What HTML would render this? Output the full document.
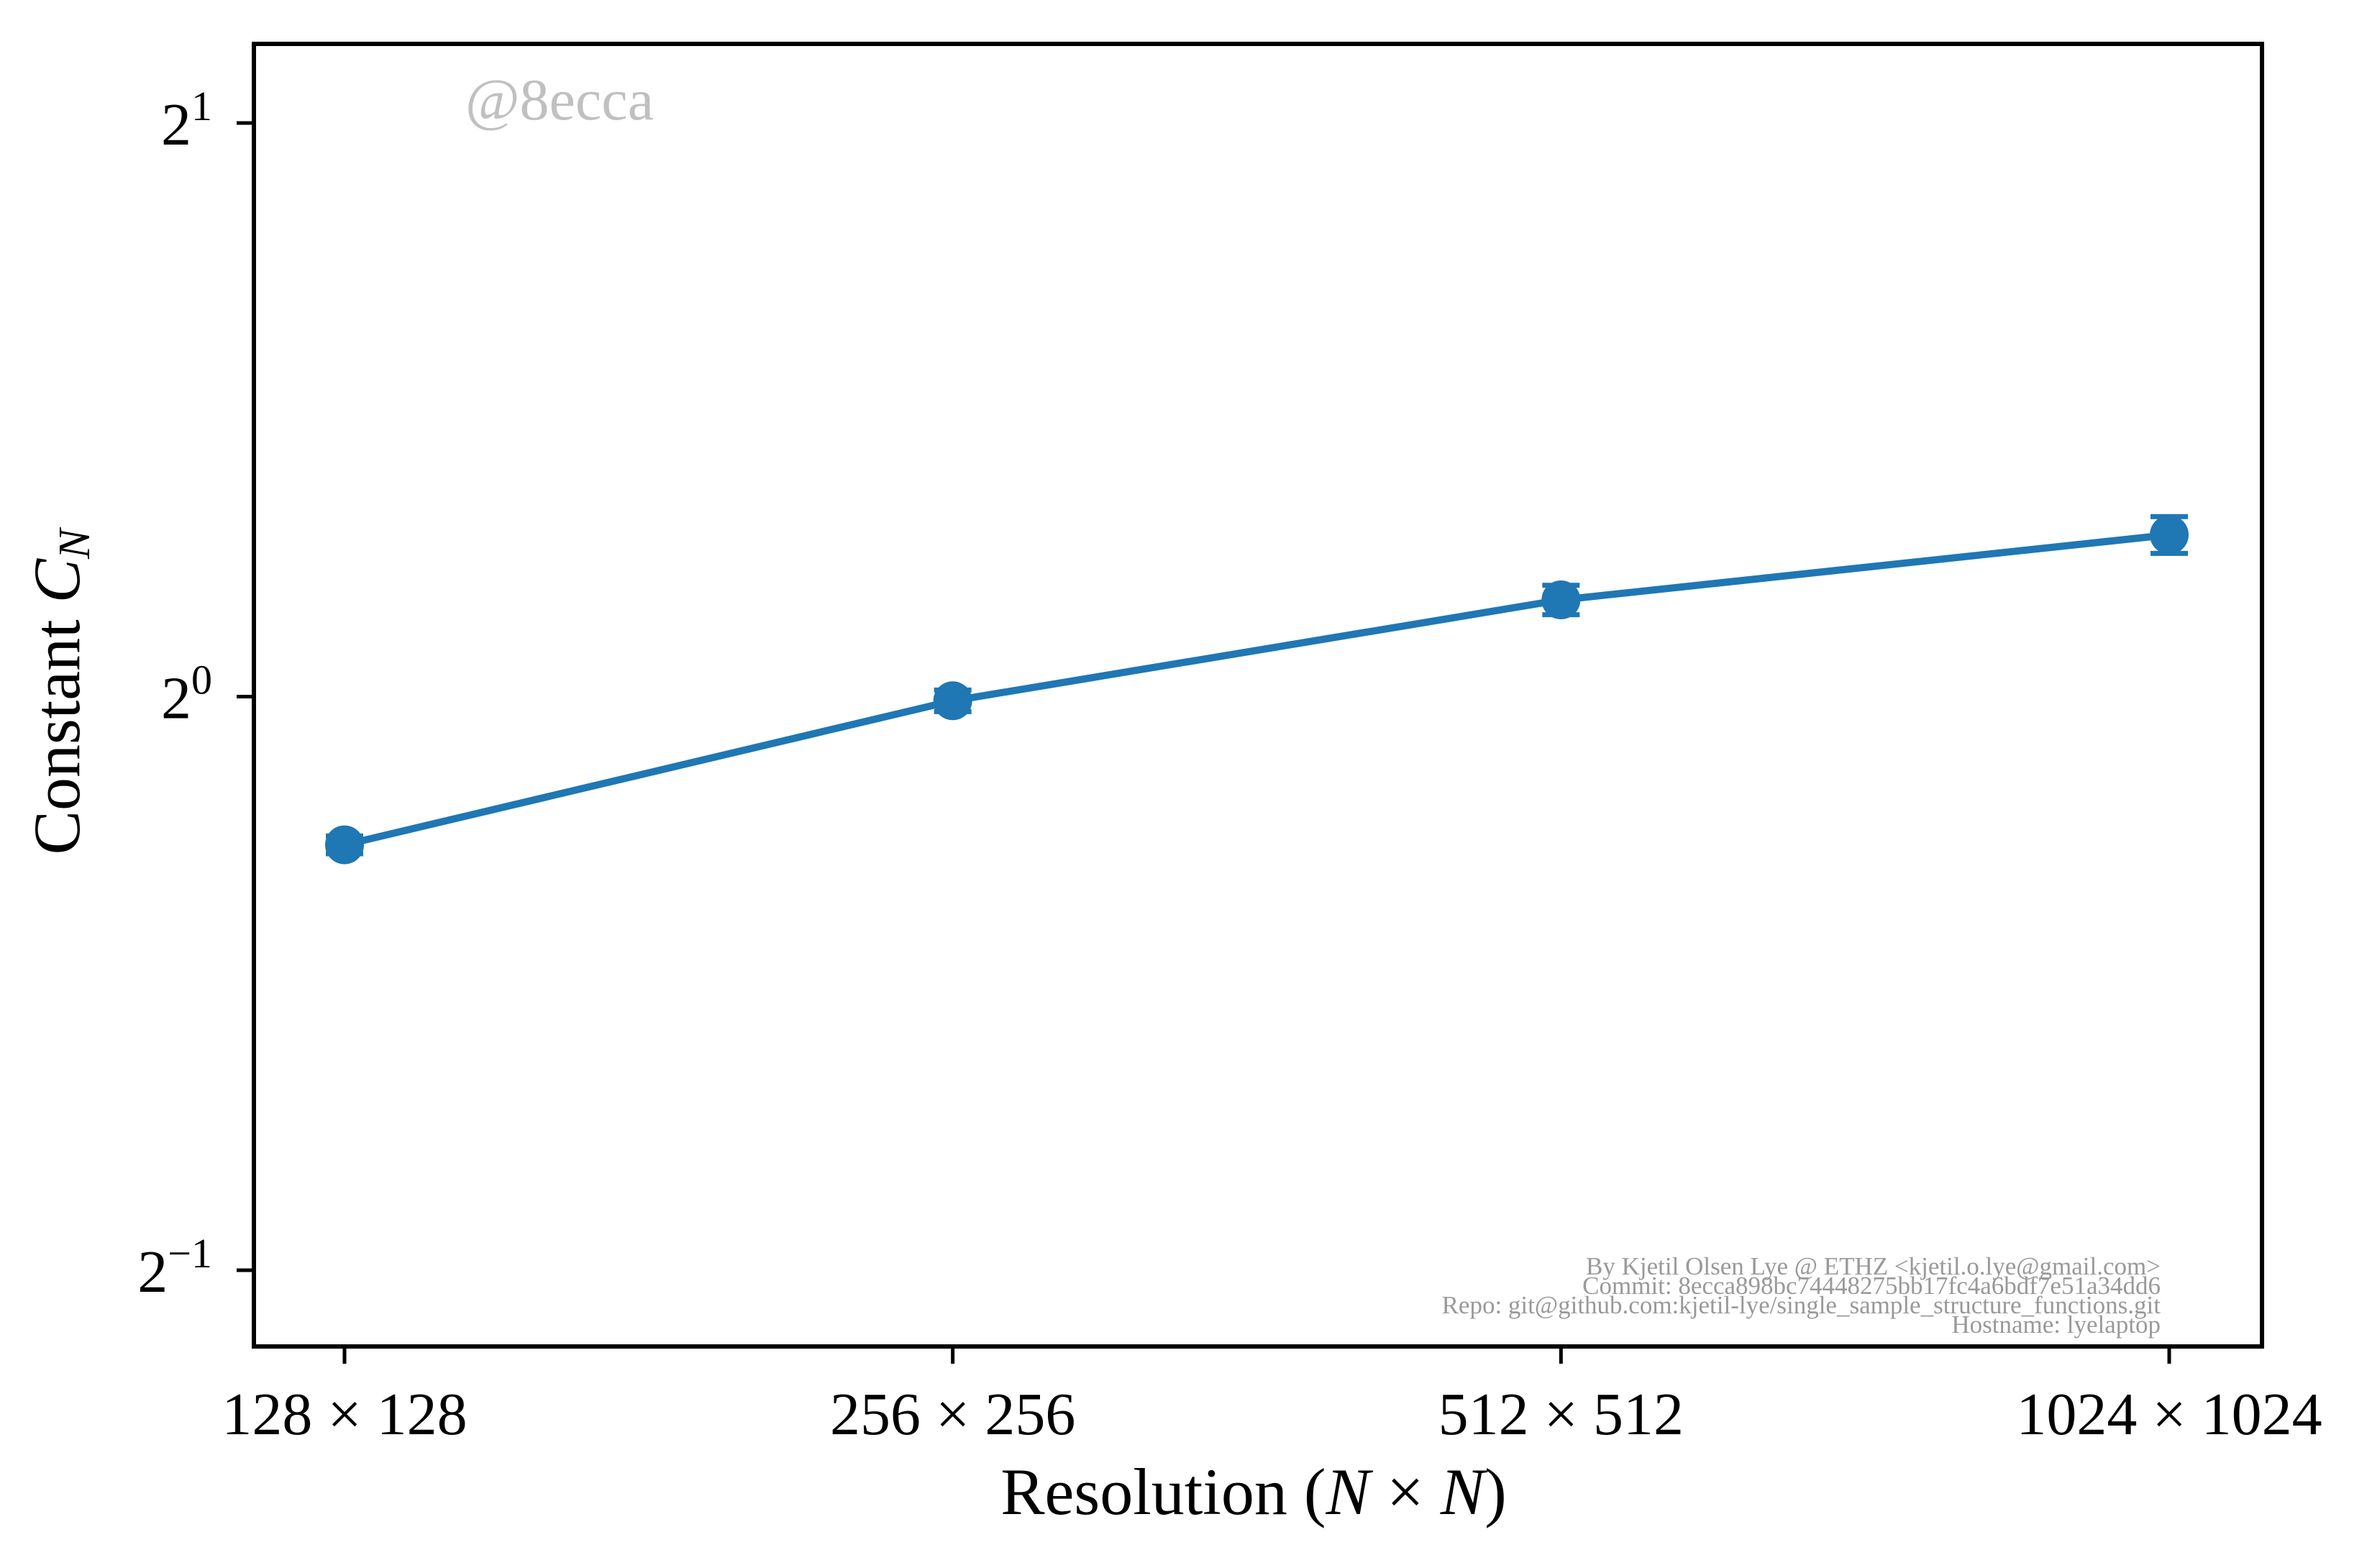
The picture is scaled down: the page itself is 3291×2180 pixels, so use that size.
<!DOCTYPE html>
<html><head><meta charset="utf-8"><style>
html,body{margin:0;padding:0;background:#fff}
svg{display:block}
text{font-family:"Liberation Serif",serif}
</style></head><body>
<svg id="chart" width="3291" height="2180" viewBox="0 0 3291 2180" xmlns="http://www.w3.org/2000/svg">
<rect width="3291" height="2180" fill="#fff"/>
<g id="marks"></g>
<rect x="353" y="61" width="2792" height="1811" fill="none" stroke="#000" stroke-width="6"/>
<text x="647" y="166" font-size="82" fill="#c0c0c0">@8ecca</text>
<g font-size="35" fill="#999" text-anchor="end">
<text x="3004" y="1772">By Kjetil Olsen Lye @ ETHZ &lt;kjetil.o.lye@gmail.com&gt;</text>
<text x="3004" y="1799">Commit: 8ecca898bc74448275bb17fc4a6bdf7e51a34dd6</text>
<text x="3004" y="1826">Repo: git@github.com:kjetil-lye/single_sample_structure_functions.git</text>
<text x="3004" y="1853">Hostname: lyelaptop</text>
</g>
<text x="1743" y="2105" font-size="92" text-anchor="middle">Resolution (<tspan font-style="italic">N</tspan> × <tspan font-style="italic">N</tspan>)</text>
<text transform="translate(110,962) rotate(-90)" font-size="92" text-anchor="middle">Constant <tspan font-style="italic">C</tspan><tspan font-style="italic" font-size="62" dy="14">N</tspan></text>
<g id="axes"></g>
</svg>
<script>
const categories = ["128 × 128", "256 × 256", "512 × 512", "1024 × 1024"];
const values = [0.836, 0.995, 1.124, 1.216];
const errors = [0.009, 0.013, 0.02, 0.027];
const yTickExponents = [1, 0, -1];

const NS = "http://www.w3.org/2000/svg";
const L = 353, R = 3145, T = 61, B = 1872;
const yMin = -1.133, yMax = 1.138;
function xScale(i){ return 479 + i * (3016 - 479) / (categories.length - 1); }
function yScale(v){ const l = Math.log2(v); return B - (l - yMin) / (yMax - yMin) * (B - T); }
function mk(tag, attrs, parent){ const e = document.createElementNS(NS, tag); for (const k in attrs) e.setAttribute(k, attrs[k]); parent.appendChild(e); return e; }

const axes = document.getElementById('axes');
categories.forEach((c, i) => {
  const x = xScale(i);
  const t = mk('line', {x1:x, x2:x, y1:B, y2:B+24, stroke:'#000','stroke-width':5}, axes);
  
  
  const lb = mk('text', {x:x, y:B+122, 'font-size':84, 'text-anchor':'middle'}, axes);
  lb.textContent = c;
  
  
});
yTickExponents.forEach(e => {
  const y = yScale(Math.pow(2, e));
  const t = mk('line', {x1:L-24, x2:L, y1:y, y2:y, stroke:'#000','stroke-width':5}, axes);
  
  
  const lb = mk('text', {x:L-58, y:y+30, 'font-size':84, 'text-anchor':'end'}, axes);
  
  
  const b = document.createElementNS(NS, 'tspan'); b.textContent = '2'; lb.appendChild(b);
  const s = document.createElementNS(NS, 'tspan'); s.setAttribute('dy', -34); s.setAttribute('font-size', 58);
  s.textContent = e < 0 ? '−' + (-e) : String(e); lb.appendChild(s);
});

const marks = document.getElementById('marks');
const color = '#1f77b4';
const pts = values.map((v, i) => xScale(i) + ',' + yScale(v)).join(' ');
const line = mk('polyline', {points:pts, fill:'none', stroke:color, 'stroke-width':10, 'stroke-linejoin':'round'}, marks);


values.forEach((v, i) => {
  const x = xScale(i), y1 = yScale(v + errors[i]), y2 = yScale(v - errors[i]);
  const g = mk('g', {}, marks);
  
  
  mk('line', {x1:x, x2:x, y1:y1, y2:y2, stroke:color, 'stroke-width':6}, g);
  mk('line', {x1:x-26, x2:x+26, y1:y1, y2:y1, stroke:color, 'stroke-width':7}, g);
  mk('line', {x1:x-26, x2:x+26, y1:y2, y2:y2, stroke:color, 'stroke-width':7}, g);
  const c = mk('circle', {cx:x, cy:yScale(v), r:27, fill:color}, marks);
  
  
});
</script>
</body></html>
